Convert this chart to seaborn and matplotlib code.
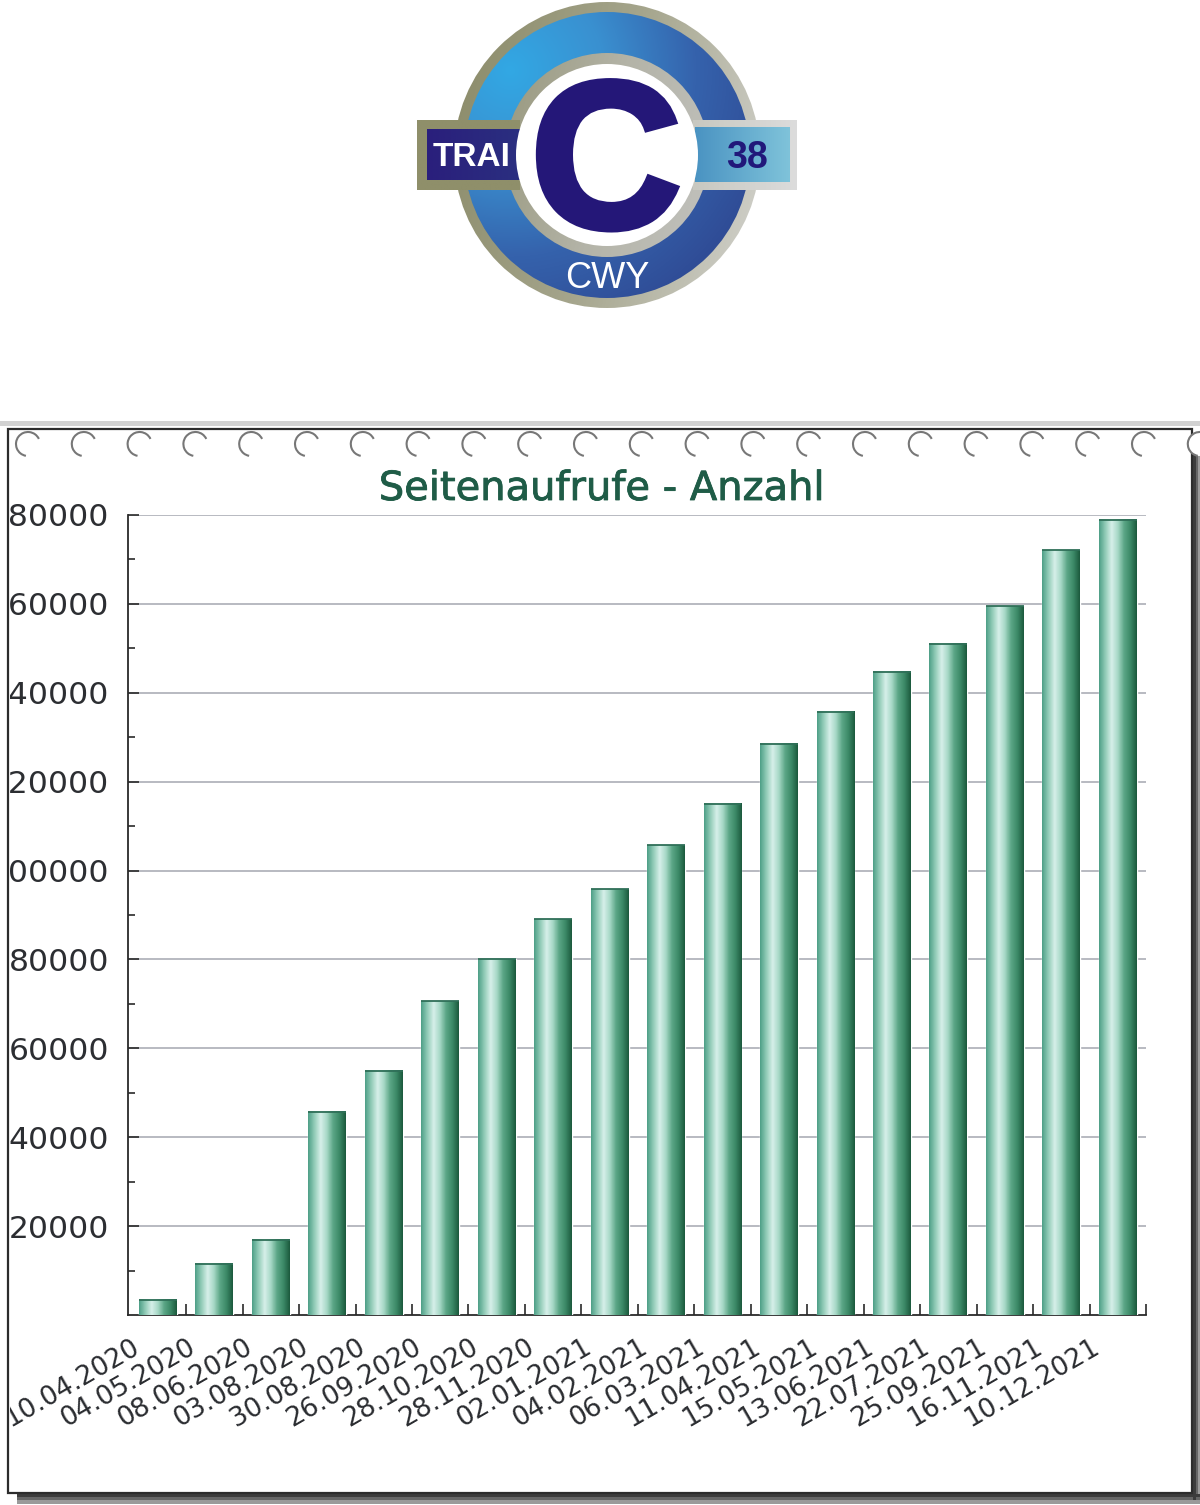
"""
plot.py - Seitenaufrufe chart with the logo above it
"""
import matplotlib
matplotlib.use('Agg')
import matplotlib.pyplot as plt
import matplotlib.patches as mpatches
import matplotlib.patheffects as pe
from matplotlib.colors import LinearSegmentedColormap
from matplotlib.transforms import Bbox, ScaledTranslation
import seaborn as sns
import numpy as np

dates = ['10.04.2020', '04.05.2020', '08.06.2020', '03.08.2020', '30.08.2020', '26.09.2020',
         '28.10.2020', '28.11.2020', '02.01.2021', '04.02.2021', '06.03.2021', '11.04.2021',
         '15.05.2021', '13.06.2021', '22.07.2021', '25.09.2021', '16.11.2021', '10.12.2021']
views = [3400, 11500, 16900, 45700, 54900, 70600, 80100, 89100, 95800,
         105700, 115000, 128500, 135700, 144700, 151000, 159500, 172100, 178900]
y_ticks = [20000, 40000, 60000, 80000, 100000, 120000, 140000, 160000, 180000]
y_minor = [10000, 30000, 50000, 70000, 90000, 110000, 130000, 150000, 170000]

W, H = 1200, 1505
sns.set_style('white')
plt.rcParams['font.family'] = ['DejaVu Sans']
fig = plt.figure(figsize=(W / 100, H / 100), dpi=100, facecolor='white')

# ── background layer in pixel coordinates ─────────────────────────────────────
bg = fig.add_axes([0, 0, 1, 1], zorder=0)
bg.set_xlim(0, W)
bg.set_ylim(H, 0)
bg.axis('off')


def grad_disc(cx, cy, r, colors, fn):
    xx, yy = np.meshgrid(np.linspace(cx - r, cx + r, 300), np.linspace(cy - r, cy + r, 300))
    cmap = LinearSegmentedColormap.from_list('g', colors)
    im = bg.imshow(fn(xx, yy), extent=[cx - r, cx + r, cy + r, cy - r], cmap=cmap,
                   vmin=0, vmax=1, aspect='auto', interpolation='bilinear')
    circle = mpatches.Circle((cx, cy), r, transform=bg.transData)
    im.set_clip_path(circle)


def grad_rect(x0, x1, y0, y1, colors):
    cmap = LinearSegmentedColormap.from_list('g', colors)
    bg.imshow(np.linspace(0, 1, 128).reshape(1, -1), extent=[x0, x1, y1, y0], cmap=cmap,
              aspect='auto', interpolation='bilinear')


# ── logo ──────────────────────────────────────────────────────────────────────
cx, cy = 607, 155
diag = lambda x, y: np.clip((x - cx + 153) / 306 * 0.8 + (y - cy + 153) / 306 * 0.2, 0, 1)
grad_disc(cx, cy, 153, ['#8a8a68', '#a5a58c', '#d4d4d0'], diag)
glow = lambda x, y: np.clip(np.hypot(x - 510, y - 70) / 280, 0, 1)
grad_disc(cx, cy, 143, ['#32a8e4', '#3a90d0', '#3562ac', '#2f4a94'], glow)
grad_disc(cx, cy, 102, ['#8a8a68', '#b4b4a8', '#c8c8c8'], diag)
grad_rect(417, 520, 120, 190, ['#8f8f6a', '#8f8f6a'])
grad_rect(427, 520, 129, 180, ['#2a1f7c', '#2a2f80'])
grad_rect(693, 797, 120, 190, ['#c8c8c0', '#dcdcdc'])
grad_rect(695, 790, 127, 182, ['#4a93c2', '#7fc3da'])
bg.add_patch(mpatches.Circle((cx, cy), 91, facecolor='white', edgecolor='none'))
bg.text(433, 157, 'TRAI', color='white', fontsize=24, fontweight='bold',
        family='Liberation Sans', ha='left', va='center')
bg.text(747, 158, '38', color='#21187a', fontsize=27, fontweight='bold',
        family='Liberation Sans', ha='center', va='center')
bg.text(607, 279, 'CWY', color='white', fontsize=26, family='Liberation Sans',
        ha='center', va='center')
bg.text(606, 173, 'C', color='#241778', fontsize=150, fontweight='bold',
        family='Liberation Sans', ha='center', va='center',
        path_effects=[pe.Stroke(linewidth=5, foreground='#241778', joinstyle='miter'), pe.Normal()])

# ── frame, shadow, rings ──────────────────────────────────────────────────────
bg.add_patch(mpatches.Rectangle((0, 421), W, 5, facecolor='#d2d2d2', edgecolor='none'))
for col, off, side in [('#9a9a9a', 10, 7), ('#666666', 6, 5), ('#3c3c3c', 3, 3)]:
    bg.add_patch(mpatches.Rectangle((1193, 455), side, 1045, facecolor=col, edgecolor='none'))
    bg.add_patch(mpatches.Rectangle((17, 1494), W - 17, off, facecolor=col, edgecolor='none'))
bg.add_patch(mpatches.Rectangle((8, 429), 1184, 1064, facecolor='white', edgecolor='#2c2c2c', linewidth=1.6))
for i in range(22):
    xc = 28 + 55.8 * i
    if i == 21:
        bg.add_patch(mpatches.Circle((xc, 444), 12, facecolor='white', edgecolor='none'))
    bg.add_patch(mpatches.Arc((xc, 444), 24, 24, theta1=100, theta2=335, color='#777777', linewidth=1.5))
bg.set_xlim(0, W)
bg.set_ylim(H, 0)

# ── chart ─────────────────────────────────────────────────────────────────────
ax = fig.add_axes([128 / W, (H - 1315) / H, 1018 / W, 800 / H], zorder=1)
ax.patch.set_visible(False)
sns.barplot(x=dates, y=views, ax=ax, width=0.67, color='#5fa88c', saturation=1, zorder=3)

bar_cmap = LinearSegmentedColormap.from_list(
    'bar', ['#4fa088', '#94cdb9', '#d6efe9', '#a6d8c6', '#5aa585', '#3c8a68', '#1c5a3e'])
gradient = np.linspace(0, 1, 64).reshape(1, -1)
for patch in list(ax.patches):
    x0, w, h = patch.get_x(), patch.get_width(), patch.get_height()
    ax.imshow(gradient, extent=[x0, x0 + w, 0, h], cmap=bar_cmap, aspect='auto', zorder=4,
              interpolation='bilinear')
    ax.plot([x0, x0 + w], [h, h], color='#2f6f58', lw=1.3, zorder=5, solid_capstyle='butt')

ax.set_xlim(-0.53, 17.47)
ax.set_ylim(0, 180000)
ax.set_yticks(y_ticks)
ax.set_yticklabels([str(v) for v in y_ticks])
ax.set_yticks(y_minor, minor=True)
ax.set_xticks(np.arange(len(dates)) + 0.5, minor=True)
ax.yaxis.grid(True, color='#b2b4bc', linewidth=1.3, zorder=1)
ax.set_axisbelow(True)
for side in ('top', 'right'):
    ax.spines[side].set_visible(False)
for side in ('left', 'bottom'):
    ax.spines[side].set_color('#2a2a2a')
    ax.spines[side].set_linewidth(1.3)
ax.tick_params(axis='y', which='major', direction='in', length=8, width=1.2, color='#2a2a2a',
               left=True, labelsize=22.6, labelcolor='#2c2e32', pad=13.5)
ax.tick_params(axis='y', which='minor', direction='in', length=5, width=1.2, color='#2a2a2a', left=True)
ax.tick_params(axis='x', which='minor', direction='in', length=8, width=1.2, color='#2a2a2a', bottom=True)
ax.tick_params(axis='x', which='major', length=0, pad=14, labelsize=19, labelcolor='#2a2c30')
ax.set_xlabel('')
ax.set_ylabel('')

inner = Bbox([[9.5, 12], [1192, H - 430]])
shift = ScaledTranslation(-27 / 100, 0, fig.dpi_scale_trans)
for label in ax.get_xticklabels():
    label.set_rotation(30)
    label.set_ha('right')
    label.set_va('top')
    label.set_rotation_mode('anchor')
    label.set_transform(label.get_transform() + shift)
    label.set_clip_box(inner)
    label.set_clip_on(True)
for label in ax.get_yticklabels():
    label.set_clip_box(inner)
    label.set_clip_on(True)

fig.text(602 / W, 1 - 489 / H, 'Seitenaufrufe - Anzahl', color='#1f5c47', fontsize=28.8,
         ha='center', va='center',
         path_effects=[pe.withStroke(linewidth=0.6, foreground='#1f5c47')])

plt.savefig('out.png', dpi=100)
plt.close()
